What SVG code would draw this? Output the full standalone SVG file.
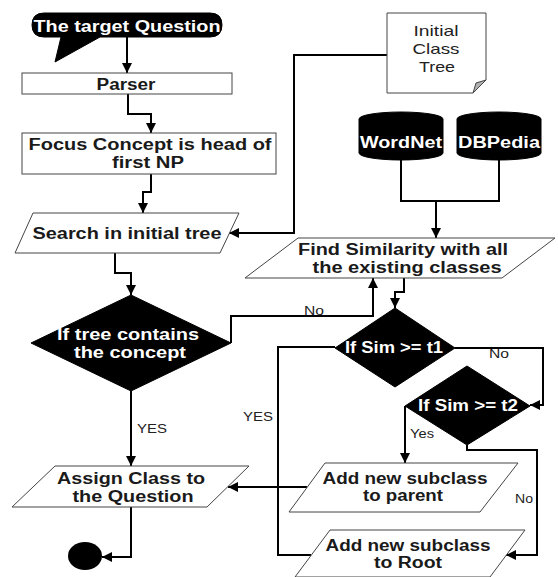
<svg xmlns="http://www.w3.org/2000/svg" width="558" height="577" viewBox="0 0 558 577">
  <defs>
    <marker id="arrow" viewBox="0 0 10 10" refX="10" refY="5" markerWidth="10" markerHeight="10" markerUnits="userSpaceOnUse" orient="auto">
      <path d="M0,0 L10,5 L0,10 Z" fill="#000"/>
    </marker>
    <style>
      .box { fill: #fff; stroke: #444; stroke-width: 1; }
      .dark { fill: #000; stroke: #000; stroke-width: 1; }
      .t { font-family: "Liberation Sans", Arial, sans-serif; font-weight: bold; font-size: 16px; fill: #1a1a1a; text-anchor: middle; }
      .tw { font-family: "Liberation Sans", Arial, sans-serif; font-weight: bold; font-size: 16px; fill: #fff; text-anchor: middle; }
      .r { font-family: "Liberation Sans", Arial, sans-serif; font-size: 15px; fill: #222; text-anchor: middle; }
      .lbl { font-family: "Liberation Sans", Arial, sans-serif; font-size: 13px; fill: #222; text-anchor: middle; }
      .conn { fill: none; stroke: #000; stroke-width: 2; }
    </style>
  </defs>
  <rect width="558" height="577" fill="#fff"/>

  <!-- connectors -->
  <g id="connectors">
    <path class="conn" d="M127,36 V73" marker-end="url(#arrow)"/>
    <path class="conn" d="M128,94 V114 H151 V133" marker-end="url(#arrow)"/>
    <path class="conn" d="M151,174 V192 H143 V213" marker-end="url(#arrow)"/>
    <path class="conn" d="M387,55 H294 V233 H229" marker-end="url(#arrow)"/>
    <path class="conn" d="M115,253 V273 H131 V295" marker-end="url(#arrow)"/>
    <path class="conn" d="M401,160 V201 H499 V160"/>
    <path class="conn" d="M436,201 V238" marker-end="url(#arrow)"/>
    <path class="conn" d="M231,343 V316 H373 V278" marker-end="url(#arrow)"/>
    <path class="conn" d="M404,278 V292 H395 V308" marker-end="url(#arrow)"/>
    <path class="conn" d="M455,348 H543 V405 H530" marker-end="url(#arrow)"/>
    <path class="conn" d="M405,406 V463" marker-end="url(#arrow)"/>
    <path class="conn" d="M467,445 V450 H537 V555 H506" marker-end="url(#arrow)"/>
    <path class="conn" d="M335,347 H278 V555 H311"/>
    <path class="conn" d="M307,487 H228" marker-end="url(#arrow)"/>
    <path class="conn" d="M131,391 V466" marker-end="url(#arrow)"/>
    <path class="conn" d="M131,507 V557 H102" marker-end="url(#arrow)"/>
  </g>

  <!-- connector labels -->
  <g id="labels">
    <text class="lbl" x="314" y="315" textLength="20" lengthAdjust="spacingAndGlyphs">No</text>
    <text class="lbl" x="499" y="358" textLength="20" lengthAdjust="spacingAndGlyphs">No</text>
    <text class="lbl" x="258" y="421" textLength="30" lengthAdjust="spacingAndGlyphs">YES</text>
    <text class="lbl" x="422" y="438" textLength="24" lengthAdjust="spacingAndGlyphs">Yes</text>
    <text class="lbl" x="524" y="503" textLength="18" lengthAdjust="spacingAndGlyphs">No</text>
    <text class="lbl" x="152" y="433" textLength="30" lengthAdjust="spacingAndGlyphs">YES</text>
  </g>

  <g id="target-question">
    <path class="dark" d="M44,13 H210 Q222,13 222,25 Q222,37 210,37 H100 L55,62 L61,37 H44 Q32,37 32,25 Q32,13 44,13 Z"/>
    <text class="tw" x="127" y="32" textLength="187" lengthAdjust="spacingAndGlyphs">The target Question</text>
  </g>

  <g id="parser">
    <rect class="box" x="22" y="73" width="210" height="21"/>
    <text class="t" x="126" y="90" textLength="59" lengthAdjust="spacingAndGlyphs">Parser</text>
  </g>

  <g id="focus-concept">
    <rect class="box" x="22" y="133" width="254" height="41"/>
    <text class="t" x="150" y="150" textLength="243" lengthAdjust="spacingAndGlyphs">Focus Concept is head of</text>
    <text class="t" x="148" y="168" textLength="72" lengthAdjust="spacingAndGlyphs">first NP</text>
  </g>

  <g id="initial-class-tree">
    <path class="box" d="M387,13 H486 V80 L473,93 H387 Z"/>
    <path d="M486,80 L473,93 L476,83 Z" fill="#b0b0b0" stroke="#444" stroke-width="1"/>
    <text class="r" x="436" y="36" textLength="45" lengthAdjust="spacingAndGlyphs">Initial</text>
    <text class="r" x="436" y="54" textLength="47" lengthAdjust="spacingAndGlyphs">Class</text>
    <text class="r" x="437" y="72" textLength="36" lengthAdjust="spacingAndGlyphs">Tree</text>
  </g>

  <g id="wordnet">
    <path class="dark" d="M359,119 A42,7 0 0 1 443,119 V153 A42,7 0 0 1 359,153 Z"/>
    <text class="tw" x="401" y="148" textLength="82" lengthAdjust="spacingAndGlyphs">WordNet</text>
  </g>

  <g id="dbpedia">
    <path class="dark" d="M457,119 A42,7 0 0 1 541,119 V153 A42,7 0 0 1 457,153 Z"/>
    <text class="tw" x="499" y="148" textLength="82" lengthAdjust="spacingAndGlyphs">DBPedia</text>
  </g>

  <g id="search-tree">
    <path class="box" d="M33,213 H239 L220,253 H15 Z"/>
    <text class="t" x="127" y="239" textLength="189" lengthAdjust="spacingAndGlyphs">Search in initial tree</text>
  </g>

  <g id="find-similarity">
    <path class="box" d="M298,238 H555 L502,278 H245 Z"/>
    <text class="t" x="403" y="255" textLength="210" lengthAdjust="spacingAndGlyphs">Find Similarity with all</text>
    <text class="t" x="407" y="273" textLength="189" lengthAdjust="spacingAndGlyphs">the existing classes</text>
  </g>

  <g id="tree-contains">
    <path class="dark" d="M131,295 L231,343 L131,391 L31,343 Z"/>
    <text class="tw" x="128" y="340" textLength="142" lengthAdjust="spacingAndGlyphs">If tree contains</text>
    <text class="tw" x="130" y="358" textLength="112" lengthAdjust="spacingAndGlyphs">the concept</text>
  </g>

  <g id="sim-t1">
    <path class="dark" d="M395,308 L455,348 L395,387 L335,348 Z"/>
    <text class="tw" x="394" y="353" textLength="98" lengthAdjust="spacingAndGlyphs">If Sim &gt;= t1</text>
  </g>

  <g id="sim-t2">
    <path class="dark" d="M467,366 L530,406 L467,445 L405,406 Z"/>
    <text class="tw" x="468" y="411" textLength="100" lengthAdjust="spacingAndGlyphs">If Sim &gt;= t2</text>
  </g>

  <g id="assign-class">
    <path class="box" d="M55,466 H249 L207,507 H12 Z"/>
    <text class="t" x="131" y="484" textLength="148" lengthAdjust="spacingAndGlyphs">Assign Class to</text>
    <text class="t" x="133" y="502" textLength="121" lengthAdjust="spacingAndGlyphs">the Question</text>
  </g>

  <g id="add-parent">
    <path class="box" d="M325,463 H518 L480,512 H289 Z"/>
    <text class="t" x="405" y="484" textLength="165" lengthAdjust="spacingAndGlyphs">Add new subclass</text>
    <text class="t" x="403" y="501" textLength="80" lengthAdjust="spacingAndGlyphs">to parent</text>
  </g>

  <g id="add-root">
    <path class="box" d="M330,530 H525 L490,577 H295 Z"/>
    <text class="t" x="408" y="551" textLength="165" lengthAdjust="spacingAndGlyphs">Add new subclass</text>
    <text class="t" x="408" y="568" textLength="68" lengthAdjust="spacingAndGlyphs">to Root</text>
  </g>

  <g id="end">
    <ellipse cx="85" cy="556" rx="17" ry="14" fill="#000"/>
  </g>
</svg>
